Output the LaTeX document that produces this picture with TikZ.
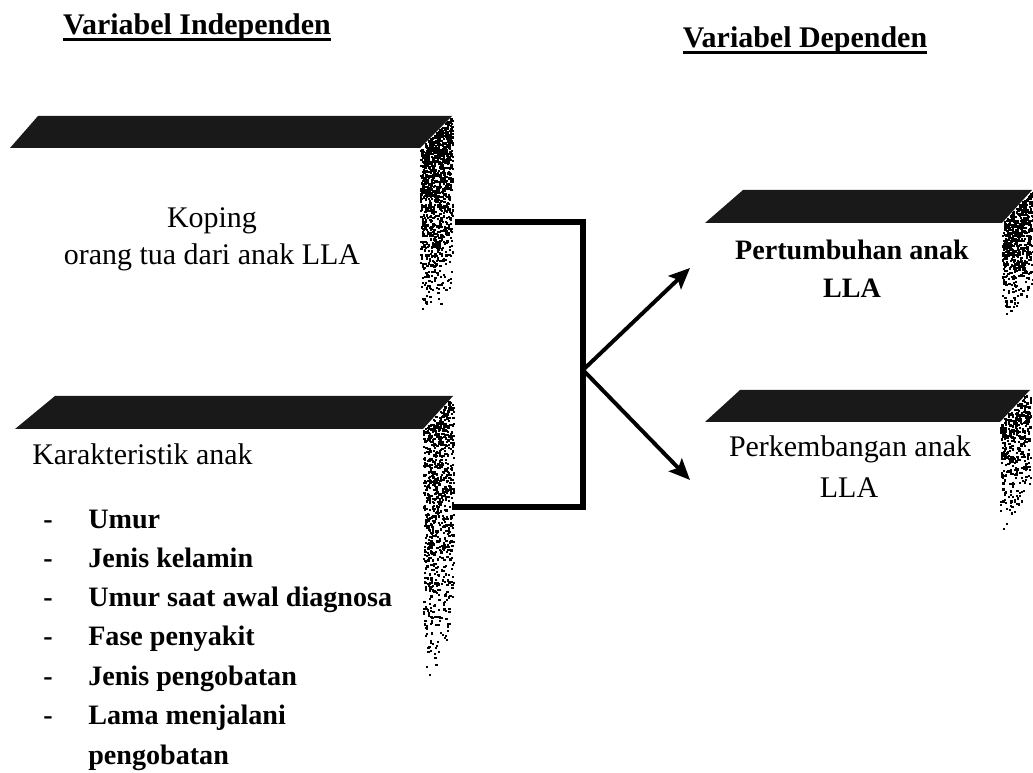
\documentclass[tikz,border=0pt]{standalone}
\usepackage{fontspec}
\setmainfont{Liberation Serif}
\usetikzlibrary{arrows.meta}

% stippled side face of a bar: x0, y of left top, width, rise, depth, dots
\newcommand\stipplestrip[6]{%
  \foreach \i in {1,...,#6}{%
    \pgfmathsetmacro\su{rnd}%
    \pgfmathsetmacro\sv{1-sqrt(rnd)}%
    \fill ({#1+\su*#3},{#2-\su*#4+\sv*#5}) rectangle ++(2.2,2.2);
  }}

\begin{document}
\begin{tikzpicture}[x=0.025cm,y=-0.025cm,
  bar/.style={fill=black!90},
  lbl/.style={font=\fontsize{21.3}{26}\selectfont, inner sep=0pt},
  lblb/.style={font=\fontsize{20}{26}\selectfont\bfseries, inner sep=0pt},
  head/.style={font=\fontsize{21.3}{26}\selectfont\bfseries, inner sep=0pt},
  uline/.style={line width=2.2pt},
  frame/.style={line width=3.6pt, line join=miter, line cap=butt},
  arr/.style={line width=2.8pt, -{Stealth[length=15pt,width=13pt,inset=3pt]}}]
\useasboundingbox (0,0) rectangle (1033,773);
\pgfmathsetseed{7}

% headings
\node[head, anchor=base] (hind) at (197,35) {Variabel Independen};
\draw[uline] ([yshift=-3.5pt]hind.base west) -- ([yshift=-3.5pt]hind.base east);
\node[head, anchor=base] (hdep) at (805,48) {Variabel Dependen};
\draw[uline] ([yshift=-3.5pt]hdep.base west) -- ([yshift=-3.5pt]hdep.base east);

% box 1: coping
\fill[bar] (38,116) -- (452,116) -- (420,148) -- (10,148) -- cycle;
\stipplestrip{420}{148}{32}{32}{178}{1100}
\node[lbl, anchor=base] (kop1) at (212,228) {Koping};
\node[lbl, anchor=base] (kop2) at (212,265) {orang tua dari anak LLA};

% box 2: child characteristics
\fill[bar] (55,396) -- (453,396) -- (423,429) -- (15,429) -- cycle;
\stipplestrip{423}{429}{30}{33}{258}{850}
\node[lbl, anchor=base west] (kar) at (32,465) {Karakteristik anak};
\foreach \t [count=\k from 0] in {Umur,Jenis kelamin,Umur saat awal diagnosa,Fase penyakit,Jenis pengobatan,Lama menjalani}{
  \node[lblb, anchor=base] (dash\k) at (48,{528+39.3*\k}) {-};
  \node[lblb, anchor=base west] (item\k) at (88,{528+39.3*\k}) {\t};
}
\node[lblb, anchor=base west] (item6) at (88,764) {pengobatan};

% box 3: growth
\fill[bar] (743,190) -- (1032,190) -- (1002,223) -- (705,223) -- cycle;
\stipplestrip{1002}{223}{30}{33}{102}{600}
\node[lblb, anchor=base] (per1) at (852,260) {Pertumbuhan anak};
\node[lblb, anchor=base] (per2) at (852,298) {LLA};

% box 4: development
\fill[bar] (740,390) -- (1030,390) -- (1000,422) -- (705,422) -- cycle;
\stipplestrip{1000}{422}{30}{32}{112}{420}
\node[lbl, anchor=base] (kem1) at (850,457) {Perkembangan anak};
\node[lbl, anchor=base] (kem2) at (849,497) {LLA};

% connectors
\coordinate (out1) at (455,222);
\coordinate (out2) at (452,507);
\coordinate (c1) at (583,222);
\coordinate (c2) at (583,507);
\coordinate (join) at (583,370);
\coordinate (in3) at (690,268);
\coordinate (in4) at (690,480);
\draw[frame] (out1) -- (c1) -- (c2) -- (out2);
\draw[arr] (join) -- (in3);
\draw[arr] (join) -- (in4);
\end{tikzpicture}
\end{document}
